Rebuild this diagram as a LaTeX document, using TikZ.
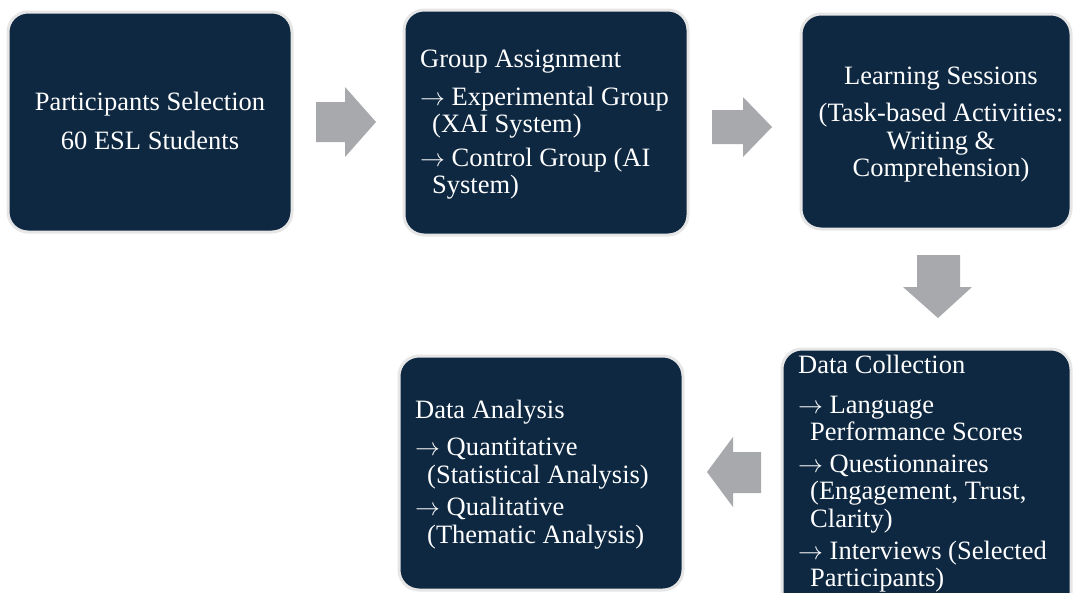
\documentclass[tikz,border=0pt]{standalone}
\usepackage{fontspec}
\setmainfont{Liberation Serif}
\definecolor{navy}{HTML}{0E2841}
\definecolor{rim}{HTML}{E6E6E6}
\definecolor{arrowgray}{HTML}{A7A9AC}
\newcommand{\rarr}{$\rightarrow$}
\tikzset{
  stepbox/.style={draw=rim, line width=3pt, fill=navy, rounded corners=20pt},
  txt/.style={text=white, inner sep=0pt, font=\fontsize{26.5}{27.5}\selectfont},
  ltxt/.style={txt, anchor=base west},
  ctxt/.style={txt, anchor=base},
  blockarrow/.style={fill=arrowgray}
}
\begin{document}
\begin{tikzpicture}[x=1pt,y=-1pt]
\useasboundingbox (0,0) rectangle (1073,592);
\clip (0,0) rectangle (1073,592);
% boxes
\draw[stepbox] (8,12) rectangle (292,232);
\draw[stepbox] (404,10) rectangle (688,235);
\draw[stepbox] (801,14) rectangle (1071,229);
\draw[stepbox] (782,349) rectangle (1071,620);
\draw[stepbox] (399,356) rectangle (683,590);
% box 1
\node[ctxt] (p1) at (150,110) {Participants Selection};
\node[ctxt] (p2) at (150,149) {60 ESL Students};
% box 2
\node[ltxt] (g1) at (420,67) {Group Assignment};
\node[ltxt] (g2) at (420,105) {\rarr{} Experimental Group};
\node[ltxt] (g3) at (432,132) {(XAI System)};
\node[ltxt] (g4) at (420,166) {\rarr{} Control Group (AI};
\node[ltxt] (g5) at (432,193) {System)};
% box 3
\node[ctxt] (l1) at (941,84) {Learning Sessions};
\node[ctxt] (l2) at (941,121) {(Task-based Activities:};
\node[ctxt] (l3) at (941,149) {Writing \&};
\node[ctxt] (l4) at (941,176) {Comprehension)};
% data collection
\node[ltxt] (c1) at (798,373) {Data Collection};
\node[ltxt] (c2) at (798,413) {\rarr{} Language};
\node[ltxt] (c3) at (810,440) {Performance Scores};
\node[ltxt] (c4) at (798,472) {\rarr{} Questionnaires};
\node[ltxt] (c5) at (810,499) {(Engagement, Trust,};
\node[ltxt] (c6) at (810,527) {Clarity)};
\node[ltxt] (c7) at (798,559) {\rarr{} Interviews (Selected};
\node[ltxt] (c8) at (810,586) {Participants)};
% data analysis
\node[ltxt] (a1) at (415,418) {Data Analysis};
\node[ltxt] (a2) at (415,455) {\rarr{} Quantitative};
\node[ltxt] (a3) at (427,483) {(Statistical Analysis)};
\node[ltxt] (a4) at (415,515) {\rarr{} Qualitative};
\node[ltxt] (a5) at (427,543) {(Thematic Analysis)};
% block arrows
\fill[blockarrow] (316,102) -- (345,102) -- (345,87) -- (376,122) -- (345,157) -- (345,142) -- (316,142) -- cycle;
\fill[blockarrow] (712,110) -- (743,110) -- (743,97) -- (772,127) -- (743,157) -- (743,144) -- (712,144) -- cycle;
\fill[blockarrow] (917,255) -- (960,255) -- (960,287) -- (972,287) -- (938,318) -- (903,287) -- (917,287) -- cycle;
\fill[blockarrow] (761,452) -- (733,452) -- (733,437) -- (707,472) -- (733,507) -- (733,493) -- (761,493) -- cycle;
\end{tikzpicture}
\end{document}
